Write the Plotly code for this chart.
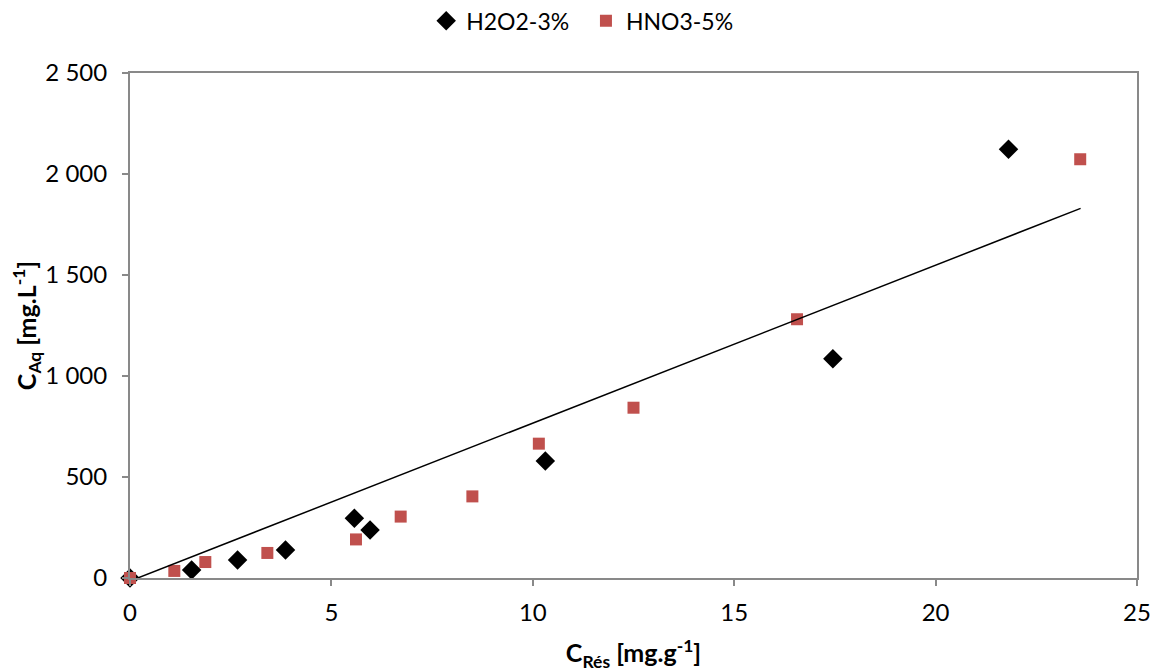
import plotly.graph_objects as go

# Data
h2o2_x = [0, 1.53, 2.67, 3.86, 5.57, 5.96, 10.31, 17.45, 21.81]
h2o2_y = [0, 40, 89, 139, 296, 238, 579, 1086, 2122]

hno3_x = [0, 1.1, 1.87, 3.41, 5.61, 6.72, 8.5, 10.15, 12.5, 16.56, 23.59]
hno3_y = [0, 35, 79, 124, 191, 304, 404, 665, 843, 1281, 2073]

trend_x = [0, 23.6]
trend_y = [-15, 1830]

y_tickvals = [0, 500, 1000, 1500, 2000, 2500]
y_ticktext = ["0", "500", "1 000", "1 500", "2 000", "2 500"]
x_tickvals = [0, 5, 10, 15, 20, 25]

FONT = "Lato"
AXIS_COLOR = "#898989"

fig = go.Figure()
fig.add_trace(go.Scatter(
    x=h2o2_x, y=h2o2_y, mode="markers", name="H2O2-3%  ",
    marker=dict(symbol="diamond", color="black", size=15,
                line=dict(width=0)),
    cliponaxis=False,
))
fig.add_trace(go.Scatter(
    x=hno3_x, y=hno3_y, mode="markers", name="HNO3-5%",
    marker=dict(symbol="square", color="#C0504D", size=12,
                line=dict(width=0)),
    cliponaxis=False,
))
fig.add_trace(go.Scatter(
    x=trend_x, y=trend_y, mode="lines", showlegend=False,
    line=dict(color="black", width=1.5), hoverinfo="skip",
))

fig.update_layout(
    width=1160, height=672,
    margin=dict(l=122, r=31, t=65, b=102, autoexpand=False),
    paper_bgcolor="white", plot_bgcolor="white",
    font=dict(family=FONT, size=23, color="black"),
    legend=dict(orientation="h", x=0.495, xanchor="center", xref="container",
                y=0.981, yref="container", yanchor="middle",
                font=dict(family=FONT, size=23), itemwidth=30,
                traceorder="normal"),
    showlegend=True,
)
fig.update_xaxes(
    range=[0, 25], tickvals=x_tickvals, showgrid=False, zeroline=False,
    showline=True, linecolor=AXIS_COLOR, linewidth=2, mirror=True,
    ticks="outside", ticklen=6, tickcolor=AXIS_COLOR, tickwidth=2,
    tickfont=dict(family=FONT, size=24), ticklabelstandoff=6,
    automargin=False,
    title=dict(text="<b>C<sub>Rés</sub> [mg.g<sup>-1</sup>]</b>",
               font=dict(family=FONT, size=25), standoff=20),
)
fig.update_yaxes(
    range=[0, 2500], tickvals=y_tickvals, ticktext=y_ticktext,
    showgrid=False, zeroline=False,
    showline=True, linecolor=AXIS_COLOR, linewidth=2, mirror=True,
    ticks="outside", ticklen=6, tickcolor=AXIS_COLOR, tickwidth=2,
    tickfont=dict(family=FONT, size=24), ticklabelstandoff=10,
    automargin=False,
    title=dict(text="<b>C<sub>Aq</sub> [mg.L<sup>-1</sup>]</b>",
               font=dict(family=FONT, size=25), standoff=12),
)

fig.write_html("out.html")
